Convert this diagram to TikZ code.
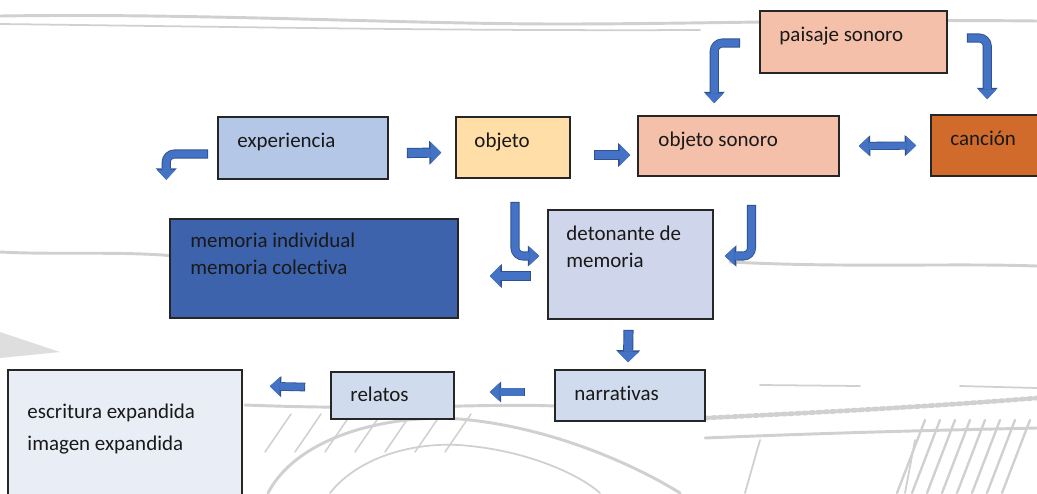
\documentclass[tikz,border=0pt]{standalone}
\usepackage{fontspec}
\setmainfont{Carlito}[Ligatures=NoCommon]
\usetikzlibrary{arrows.meta, calc, fit}
\definecolor{salmon}{RGB}{245,192,170}
\definecolor{cancion}{RGB}{209,107,44}
\definecolor{expblue}{RGB}{180,199,231}
\definecolor{objgold}{RGB}{255,222,168}
\definecolor{memblue}{RGB}{60,99,172}
\definecolor{detblue}{RGB}{207,213,234}
\definecolor{narblue}{RGB}{208,219,237}
\definecolor{escblue}{RGB}{233,237,246}
\definecolor{arrblue}{RGB}{68,114,196}
\definecolor{arredge}{RGB}{47,82,143}
\definecolor{sketch}{RGB}{208,208,208}
\tikzset{
  box/.style={draw=black!85, line width=1.3pt, inner sep=0pt},
  txt/.style={font=\fontsize{17.9}{23}\selectfont, text=black!90, inner sep=0pt, anchor=base west, align=left},
  big/.style={draw=arrblue, line width=7pt, -{Triangle[width=18.5pt,length=9pt,line width=0pt]},
    preaction={draw=arredge, line width=8.6pt, shorten <=-.8pt, -{Triangle[width=20.5pt,length=10.3pt,line width=0pt]}}},
  bent/.style={draw=arrblue, line width=6.2pt, rounded corners=7pt, -{Triangle[width=16pt,length=8.5pt,line width=0pt]},
    preaction={draw=arredge, line width=7.7pt, shorten <=-.8pt, -{Triangle[width=18pt,length=9.8pt,line width=0pt]}}},
  small/.style={draw=arrblue, line width=6pt, -{Triangle[width=16pt,length=8.5pt,line width=0pt]},
    preaction={draw=arredge, line width=7.4pt, shorten <=-.8pt, -{Triangle[width=18pt,length=9.8pt,line width=0pt]}}},
  both/.style={draw=arrblue, line width=5.6pt, {Triangle[width=16pt,length=8.5pt,line width=0pt]}-{Triangle[width=16pt,length=8.5pt,line width=0pt]},
    preaction={draw=arredge, line width=7pt, {Triangle[width=18pt,length=9.8pt,line width=0pt]}-{Triangle[width=18pt,length=9.8pt,line width=0pt]}}},
  bgline/.style={draw=sketch, line width=2.5pt, line cap=round, line join=round}
}

\begin{document}
\begin{tikzpicture}[x=0.03cm, y=-0.03cm]
  \fill[white] (0,0) rectangle (1037,493);
  \useasboundingbox (0,0) rectangle (1037,493);

  % sketch in the background
  \draw[bgline] (0,16) .. controls (200,13) and (400,24) .. (560,24) .. controls (700,24) and (850,19) .. (1037,21);
  \draw[bgline, line width=1.5pt] (0,24) .. controls (250,27) and (450,31) .. (700,30);
  \draw[bgline] (0,252) .. controls (60,255) and (120,251) .. (175,256);
  \draw[bgline] (730,262) .. controls (850,268) and (950,263) .. (1037,266);
  \fill[sketch!70] (0,332) -- (60,352) -- (0,358) -- cycle;
  \draw[bgline] (245,405) .. controls (400,411) and (480,403) .. (555,406);
  \draw[bgline, dashed, line width=4pt] (705,418) .. controls (850,411) and (950,405) .. (1037,398);
  \draw[bgline] (705,438) .. controls (850,432) and (950,430) .. (1037,428);
  \draw[bgline, line width=1.5pt] (760,385) -- (860,386) (960,386) -- (1037,388);
  \draw[bgline] (268,493) .. controls (300,432) and (400,412) .. (470,420) .. controls (560,430) and (640,468) .. (680,493);
  \draw[bgline, line width=1.5pt] (330,493) .. controls (360,455) and (420,440) .. (470,446) .. controls (530,452) and (580,475) .. (600,493);
  \foreach \x in {925,940,...,1030}
    \draw[bgline, line width=2pt] (\x,420) -- (\x-28,493);
  \foreach \x in {265,295,...,445}
    \draw[bgline, line width=1.3pt] (\x,452) -- (\x+26,414);
  \draw[bgline, line width=1.5pt] (915,440) -- (905,493) (760,440) -- (745,493);

  % boxes
  \node[box, fill=salmon, fit={(760,11) (947,73)}] (pai) {};
  \node[box, fill=expblue, fit={(218,117) (388,179)}] (exp) {};
  \node[box, fill=objgold, fit={(456,117) (570,178)}] (obj) {};
  \node[box, fill=salmon, fit={(638,116) (839,176)}] (son) {};
  \node[box, fill=cancion, fit={(931,115) (1045,176)}] (can) {};
  \node[box, fill=memblue, fit={(170,219) (458,318)}] (mem) {};
  \node[box, fill=detblue, fit={(548,210) (713,319)}] (det) {};
  \node[box, fill=narblue, fit={(555,370) (705,421)}] (nar) {};
  \node[box, fill=narblue, fit={(331,372) (454,419)}] (rel) {};
  \node[box, fill=escblue, fit={(8,370) (242,500)}] (esc) {};

  % texts
  \node[txt] (pai-t) at ($(pai.north west)+(20,31)$) {paisaje sonoro};
  \node[txt] (exp-t) at ($(exp.north west)+(20,31)$) {experiencia};
  \node[txt] (obj-t) at ($(obj.north west)+(19,31)$) {objeto};
  \node[txt] (son-t) at ($(son.north west)+(21,31)$) {objeto sonoro};
  \node[txt] (can-t) at ($(can.north west)+(20,31)$) {canción};
  \node[txt] (mem-t) at ($(mem.north west)+(21,56)$) {memoria individual\\memoria colectiva};
  \node[txt] (det-t) at ($(det.north west)+(19,58)$) {detonante de\\memoria};
  \node[txt] (nar-t) at ($(nar.north west)+(20,31)$) {narrativas};
  \node[txt] (rel-t) at ($(rel.north west)+(20,30)$) {relatos};
  \node[txt] (esc-t) at ($(esc.north west)+(20,81)$) {escritura expandida\\[4.2pt]imagen expandida};

  % arrows
  \draw[bent] ($(exp.west)+(-10,6)$) -| ($(exp.south west)+(-51,0)$);
  \draw[big] ($(exp.east)+(19,5)$) -- ($(obj.west)+(-14,5)$);
  \draw[big] ($(obj.east)+(24,7.5)$) -- ($(son.west)+(-7,9)$);
  \draw[bent] ($(pai.west)+(-20,1)$) -| ($(son.north west)+(77,-12)$);
  \draw[bent] ($(pai.east)+(20,-4)$) -| ($(can.north west)+(57,-15)$);
  \draw[both] ($(son.east)+(19,0)$) -- ($(can.west)+(-14,0)$);
  \draw[bent] ($(obj.south)+(2,24)$) |- ($(det.west)+(-8,-8.5)$);
  \draw[bent] ($(son.south)+(13,29)$) |- ($(det.east)+(11,-8.5)$);
  \draw[big] ($(det.west)+(-17,11.5)$) -- ($(mem.east)+(31,7.5)$);
  \draw[big] ($(det.south)+(-2,11)$) -- ($(nar.north)+(-2,-7)$);
  \draw[small] ($(nar.west)+(-30,-3.5)$) -- ($(rel.east)+(35,-3.5)$);
  \draw[small] ($(rel.west)+(-26,-8.5)$) -- ($(esc.north east)+(27,17)$);
\end{tikzpicture}
\end{document}
